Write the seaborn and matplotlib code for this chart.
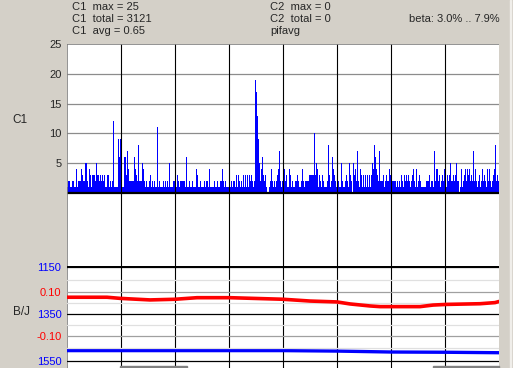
import numpy as np
import pandas as pd
import matplotlib
matplotlib.use("Agg")
import matplotlib.pyplot as plt
from matplotlib.patches import Rectangle
import seaborn as sns

sns.set_style("white")
plt.rcParams['font.family'] = ['Liberation Sans', 'DejaVu Sans']

# ---- data ----
# C1 counts, one bin per column; each string = one grid division (54 bins),
# digits in base 36 (a=10, b=11, ... j=19)
c1_segments = [
    "1221122114" "1222432255" "2143133325" "3323232311" "331212c111" "1969",
    "1116637422" "2226432822" "2542121123" "121211b121" "1121212151" "1122",
    "2132122222" "1611211211" "1431121112" "1221411112" "1121122421" "2111",
    "1121221313" "2121313131" "323212jhd9" "5246323100" "1242121234" "7212",
    "2423114312" "1122321124" "2122223333" "3a35413213" "2111283126" "4321",
    "1211521123" "2153205342" "7214313131" "3131354864" "3272223123" "2243",
    "2222212121" "3213232321" "2342141232" "1111122231" "2217244231" "2324",
    "2132352232" "3522014123" "4243423272" "4212312423" "2142421234" "8232",
]
c1_counts = [int(ch, 36) for seg in c1_segments for ch in seg]
n_bins = len(c1_counts)

c1_ticks = [5, 10, 15, 20, 25]

red_x = [0, 40, 53, 83, 108, 130, 163, 216, 243, 270, 283, 303, 313, 353, 366, 380, 413, 428, 432]
red_y = [0.075, 0.075, 0.070, 0.063, 0.066, 0.073, 0.073, 0.066, 0.058, 0.054, 0.045,
         0.036, 0.033, 0.033, 0.040, 0.043, 0.046, 0.051, 0.056]

blue_x = [0, 216, 270, 324, 378, 432]
blue_y = [1507, 1507, 1509, 1513, 1514, 1516]

bj_ticks = [1150, 1350, 1550]
red_ticks = [0.10, -0.10]
red_tick_labels = ["0.10", "-0.10"]

header_left = ["C1  max = 25", "C1  total = 3121", "C1  avg = 0.65"]
header_mid = ["C2  max = 0", "C2  total = 0", "pifavg"]
header_right = "beta: 3.0% .. 7.9%"

# ---- figure ----
W, H = 513, 368
fig = plt.figure(figsize=(W / 100, H / 100), dpi=100, facecolor="#d4d0c8")

def fx(px):
    return px / W

def fy(py):
    return 1 - py / H

L, R = 67, 499
ax = fig.add_axes([fx(L), fy(266), (R - L) / W, (266 - 44) / H])
axb = fig.add_axes([fx(L), 0, (R - L) / W, (H - 266) / H])
for a in (ax, axb):
    a.set_facecolor("white")
    for s in a.spines.values():
        s.set_visible(False)

fs = 8
# ---- top histogram ----
df = pd.DataFrame({"bin": np.arange(n_bins) + 0.5, "count": c1_counts})
sns.histplot(data=df, x="bin", weights="count", bins=n_bins, binrange=(0, n_bins),
             color="#0000ff", alpha=1, linewidth=0, edgecolor="none",
             ax=ax)
for p in ax.patches:
    p.set_antialiased(False)
ax.set_xlim(0, n_bins)
ax.set_ylim(-12.25, 25)
for v in [5, 10, 15, 20]:
    ax.axhline(v, color="#8c8c8c", lw=0.9, zorder=0.5)
ax.axhline(0, color="black", lw=1.6, zorder=3)
ax.axhline(25, color="#808080", lw=1.2, zorder=3)
for k in range(1, 8):
    ax.axvline(54 * k, color="black", lw=0.8, zorder=2.5)
    axb.axvline(54 * k, color="black", lw=0.8, zorder=2.5)
ax.axvline(0, color="#808080", lw=1.2, zorder=3)
axb.axvline(0, color="#808080", lw=1.2, zorder=3)
ax.set_yticks(c1_ticks)
ax.set_yticklabels([str(t) for t in c1_ticks])
ax.set_xticks([])
ax.tick_params(axis="y", length=0, pad=4, labelsize=fs)
ax.set_xlabel("")
ax.set_ylabel("")

# ---- bottom panel ----
axb.set_xlim(0, n_bins)
axb.set_ylim(1581, 1147)
axr = axb.twinx()
for s in axr.spines.values():
    s.set_visible(False)
axr.set_ylim(-0.2416, 0.2148)
for v in [0.15, 0.05, -0.05, -0.15]:
    axr.axhline(v, color="#e0e0e0", lw=0.9, zorder=0.5)
for v in [0.10, -0.10]:
    axr.axhline(v, color="#a0a0a0", lw=0.9, zorder=0.5)
axb.axhline(1150, color="black", lw=1.6, zorder=3)
axb.axhline(1350, color="black", lw=0.9, zorder=3)
axb.axhline(1550, color="black", lw=0.9, zorder=3)

sns.lineplot(x=blue_x, y=blue_y, color="#0000ff", lw=2.4, ax=axb, zorder=4)
sns.lineplot(x=red_x, y=red_y, color="#ff0000", lw=2.6, ax=axr, zorder=4)

axb.set_xticks([])
axb.set_yticks(bj_ticks)
axb.set_yticklabels([str(t) for t in bj_ticks], color="#0000ff")
axb.tick_params(axis="y", length=0, pad=4, labelsize=fs)
axr.yaxis.tick_left()
axr.set_yticks(red_ticks)
axr.set_yticklabels(red_tick_labels, color="#ff0000")
axr.tick_params(axis="y", length=0, pad=4, labelsize=fs, left=False, right=False)
axr.set_xlim(0, n_bins)
for a in (axb, axr):
    a.set_xlabel("")
    a.set_ylabel("")

# ---- labels & header ----
fig.text(fx(12), fy(120), "C1", fontsize=fs + 0.5, va="center", ha="left")
fig.text(fx(13), fy(312), "B/J", fontsize=fs + 0.5, va="center", ha="left")
for i, t in enumerate(header_left):
    fig.text(fx(72), fy(7 + 12.2 * i), t, fontsize=fs, va="center", ha="left")
for i, t in enumerate(header_mid):
    fig.text(fx(270), fy(7 + 12.2 * i), t, fontsize=fs, va="center", ha="left")
fig.text(fx(500), fy(19), header_right, fontsize=fs, va="center", ha="right")

# scrollbar remnants at the bottom / right
fig.patches.append(Rectangle((fx(120), 0), (187 - 120) / W, 2.5 / H,
                             transform=fig.transFigure, color="#808080", zorder=5))
fig.patches.append(Rectangle((fx(433), 0), (499 - 433) / W, 2.5 / H,
                             transform=fig.transFigure, color="#808080", zorder=5))
fig.patches.append(Rectangle((fx(510), 0), 1 / W, fy(0),
                             transform=fig.transFigure, color="#f0eeea", zorder=5))

fig.savefig("out.png", dpi=100, facecolor=fig.get_facecolor())
